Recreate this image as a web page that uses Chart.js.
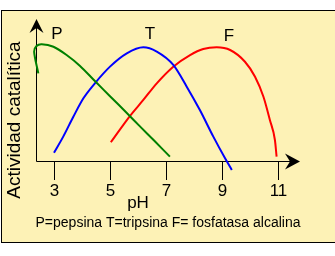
<!DOCTYPE html>
<html>
<head>
<meta charset="utf-8">
<script src="https://cdn.jsdelivr.net/npm/chart.js@4.4.0/dist/chart.umd.min.js"></script>
<style>
  body { margin: 0; background: #ffffff; }
  canvas { display: block; }
</style>
</head>
<body>
<canvas id="grafico" width="335" height="256"></canvas>
<script>
// valores (pH x atividade relativa)
const phPepsina = [2.44, 2.29, 2.375, 2.56, 2.98, 3.45, 3.93, 4.46, 5.0, 5.6, 6.07, 6.61, 7.14];
const actPepsina = [62.6, 78.1, 82.1, 83.4, 81.6, 75.7, 67.9, 57.1, 46.3, 34.3, 24.7, 13.9, 3.1];

const phTripsina = [3.0, 3.33, 3.69, 4.05, 4.46, 5.0, 5.6, 6.19, 6.67, 7.26, 7.74, 8.21, 8.69, 9.11, 9.35];
const actTripsina = [5.9, 17.4, 31.6, 44.8, 55.5, 67.4, 76.9, 81.2, 78.1, 68.6, 53.1, 36.4, 17.4, 1.9, -6.4];

const phFosfatasa = [5.03, 5.71, 6.19, 6.67, 7.26, 7.86, 8.33, 8.81, 9.29, 9.82, 10.18, 10.48, 10.71, 10.89, 10.95];
const actFosfatasa = [13.4, 32.1, 43.6, 55.5, 67.4, 75.7, 80, 81.2, 79.3, 70.9, 60.2, 45.9, 29.3, 15, 3.1];

const tickValues = [3, 5, 7, 9, 11];
const curveLabels = ['P', 'T', 'F'];
const curveLabelPos = [[3.1, 90.7], [6.43, 90.7], [9.25, 89.3]]; // pH, atividade onde fica a letra
const yTitle = 'Actividad catalítica';
const xTitle = 'pH';
const legenda = 'P=pepsina T=tripsina F= fosfatasa alcalina';

function pontos(xs, ys) {
  return xs.map((x, i) => ({ x: x, y: ys[i] }));
}

const FONTE = '"Liberation Sans", Arial, sans-serif';

// desenha fundo, eixos, setas e textos
const desenhoFigura = {
  id: 'desenhoFigura',
  beforeDraw(chart) {
    const ctx = chart.ctx;
    ctx.save();
    ctx.fillStyle = '#ffffff';
    ctx.fillRect(0, 0, chart.width, chart.height);
    ctx.fillStyle = '#fdf2b6';
    ctx.fillRect(1, 10, 334, 233);
    ctx.strokeStyle = '#000000';
    ctx.lineWidth = 1;
    ctx.strokeRect(1.5, 10.5, 334, 232);
    ctx.restore();
  },
  beforeDatasetsDraw(chart) {
    const ctx = chart.ctx;
    const xs = chart.scales.x;
    const ys = chart.scales.y;
    const y0 = Math.round(ys.getPixelForValue(0)) + 0.5;
    const x0 = 36.5;
    ctx.save();
    ctx.strokeStyle = '#000000';
    ctx.fillStyle = '#000000';
    ctx.lineWidth = 1;
    ctx.beginPath();
    ctx.moveTo(x0, 22);
    ctx.lineTo(x0, y0);
    ctx.lineTo(296, y0);
    ctx.stroke();
    // seta do eixo x
    ctx.beginPath();
    ctx.moveTo(300, y0);
    ctx.lineTo(285, y0 - 8);
    ctx.lineTo(290, y0);
    ctx.lineTo(285, y0 + 8);
    ctx.closePath();
    ctx.fill();
    // seta do eixo y
    ctx.beginPath();
    ctx.moveTo(x0, 19);
    ctx.lineTo(x0 - 7, 33);
    ctx.lineTo(x0, 28);
    ctx.lineTo(x0 + 7, 33);
    ctx.closePath();
    ctx.fill();
    // marcas
    ctx.font = '17px ' + FONTE;
    ctx.textAlign = 'center';
    ctx.textBaseline = 'middle';
    tickValues.forEach(v => {
      const px = Math.round(xs.getPixelForValue(v)) + 0.5;
      ctx.beginPath();
      ctx.moveTo(px, y0);
      ctx.lineTo(px, 180);
      ctx.stroke();
      ctx.fillText(String(v), px, 191);
    });
    ctx.restore();
  },
  afterDraw(chart) {
    const ctx = chart.ctx;
    const xs = chart.scales.x;
    const ys = chart.scales.y;
    ctx.save();
    ctx.fillStyle = '#000000';
    ctx.textAlign = 'center';
    ctx.textBaseline = 'middle';
    ctx.font = '17px ' + FONTE;
    curveLabels.forEach((t, i) => {
      ctx.fillText(t, xs.getPixelForValue(curveLabelPos[i][0]), ys.getPixelForValue(curveLabelPos[i][1]));
    });
    ctx.fillText(xTitle, 138, 203);
    ctx.font = '14px ' + FONTE;
    ctx.fillText(legenda, 168, 223);
    ctx.translate(15, 120);
    ctx.rotate(-Math.PI / 2);
    ctx.font = '19px ' + FONTE;
    ctx.fillText(yTitle, 0, 0);
    ctx.restore();
  }
};

const ctx = document.getElementById('grafico').getContext('2d');
window.chart = new Chart(ctx, {
  type: 'scatter',
  data: {
    datasets: [
      { label: 'P', data: pontos(phPepsina, actPepsina), borderColor: '#008000', tension: 0.3 },
      { label: 'T', data: pontos(phTripsina, actTripsina), borderColor: '#0000ff', cubicInterpolationMode: 'monotone' },
      { label: 'F', data: pontos(phFosfatasa, actFosfatasa), borderColor: '#ff0000', cubicInterpolationMode: 'monotone' }
    ]
  },
  options: {
    responsive: false,
    animation: false,
    devicePixelRatio: 1,
    layout: { padding: { left: 26, right: 29, top: 21, bottom: 95 } },
    elements: {
      line: { borderWidth: 2, tension: 0.4, fill: false },
      point: { radius: 0, hoverRadius: 0 }
    },
    datasets: { scatter: { showLine: true, clip: false } },
    scales: {
      x: { type: 'linear', min: 2, max: 12, display: false },
      y: { type: 'linear', min: 0, max: 100, display: false }
    },
    plugins: {
      legend: { display: false },
      tooltip: { enabled: false }
    }
  },
  plugins: [desenhoFigura]
});
</script>
</body>
</html>
